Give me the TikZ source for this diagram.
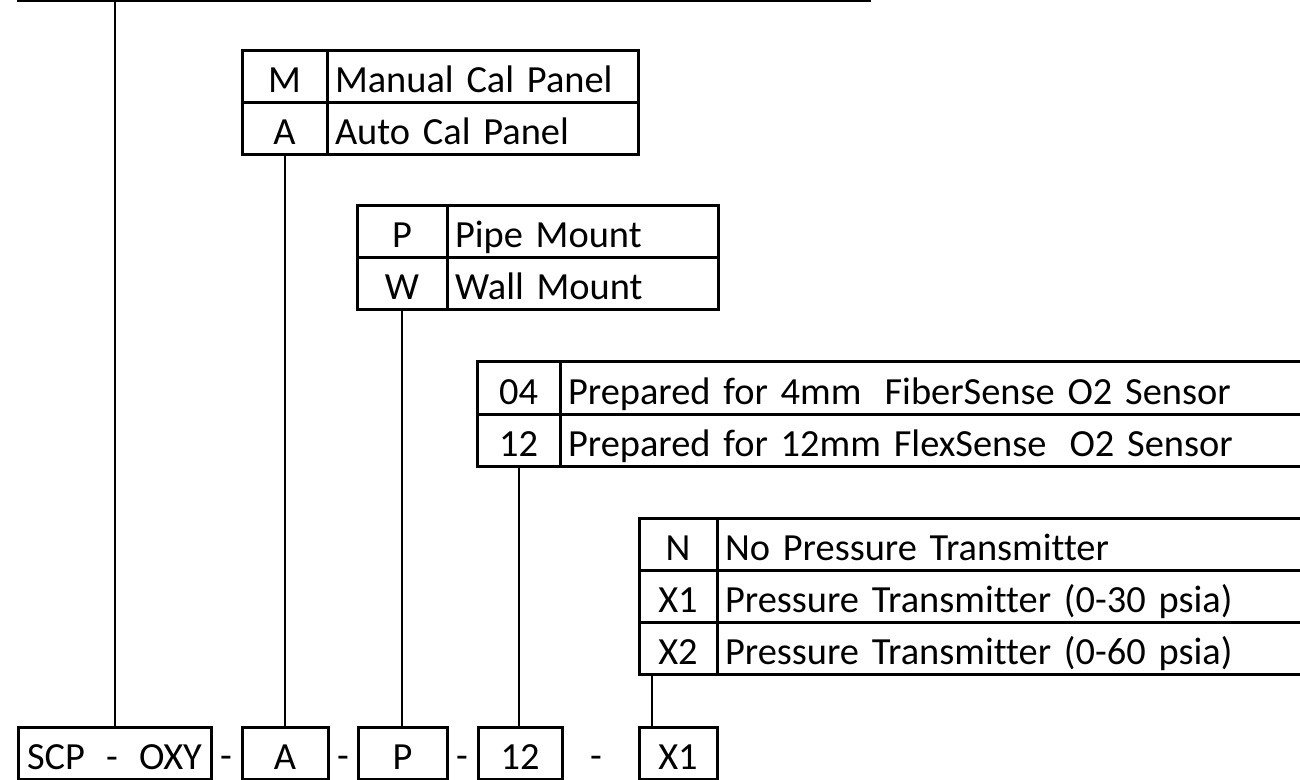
\documentclass[tikz,border=0pt]{standalone}
\usepackage{fontspec}
\setmainfont{Carlito}[Ligatures=NoCommon]
\begin{document}
\begin{tikzpicture}[x=0.5pt,y=-0.5pt,
  every node/.style={font=\fontsize{19.2}{23}\selectfont, inner sep=0pt, outer sep=0pt, text height=21pt, text depth=5pt},
  cell/.style={draw, line width=1.5pt, anchor=north west, minimum height=26pt},
  codecell/.style={cell, minimum width=#1, align=center},
  desccell/.style={cell, text width=#1, inner xsep=4pt, align=left},
  conn/.style={line width=1pt},
]
\useasboundingbox (0,0) rectangle (1300,780);
% top line
\coordinate (tl) at (17,1);
\coordinate (tr) at (871,1);
\draw[conn] (tl) -- (tr);
% box 1
\node[codecell=42.5pt] (cM) at (242,51) {M};
\node[desccell=147.5pt] (dM) at (327,51) {Manual Cal Panel};
\node[codecell=42.5pt] (cA) at (242,103) {A};
\node[desccell=147.5pt] (dA) at (327,103) {Auto Cal Panel};
% box 2
\node[codecell=45pt] (cP) at (357,206) {P};
\node[desccell=127.5pt] (dP) at (447,206) {Pipe Mount};
\node[codecell=45pt] (cW) at (357,258) {W};
\node[desccell=127.5pt] (dW) at (447,258) {Wall Mount};
% box 3
\node[codecell=41.5pt] (c04) at (477,362) {04};
\node[desccell=372pt] (d04) at (560,362) {Prepared for 4mm\hspace{0.6em}FiberSense O2 Sensor};
\node[codecell=41.5pt] (c12) at (477,414) {12};
\node[desccell=372pt] (d12) at (560,414) {Prepared for 12mm FlexSense\hspace{0.6em}O2 Sensor};
% box 4
\node[codecell=39pt] (cN) at (639,518) {N};
\node[desccell=293.5pt] (dN) at (717,518) {No Pressure Transmitter};
\node[codecell=39pt] (cX1) at (639,570) {X1};
\node[desccell=293.5pt] (dX1) at (717,570) {Pressure Transmitter (0-30 psia)};
\node[codecell=39pt] (cX2) at (639,622) {X2};
\node[desccell=293.5pt] (dX2) at (717,622) {Pressure Transmitter (0-60 psia)};
% bottom code
\node[codecell=96.5pt] (bSCP) at (18,727) {SCP\hspace{0.55em}-\hspace{0.55em}OXY};
\node[codecell=43pt] (bA) at (242,727) {A};
\node[codecell=44.5pt] (bP) at (358,727) {P};
\node[codecell=42pt] (b12) at (478,727) {12};
\node[codecell=39pt] (bX1) at (639,727) {X1};
\node (s1) at (226,752.5) {-};
\node (s2) at (343,752.5) {-};
\node (s3) at (462,752.5) {-};
\node (s4) at (596,752.5) {-};
% connectors
\draw[conn] (bSCP.north |- tl) -- (bSCP.north);
\draw[conn] (cA.south) -- (cA.south |- bA.north);
\draw[conn] (cW.south) -- (cW.south |- bP.north);
\draw[conn] (c12.south) -- (c12.south |- b12.north);
\coordinate (xs) at ([xshift=6.5pt]cX2.south west);
\draw[conn] (xs) -- (xs |- bX1.north);
\end{tikzpicture}
\end{document}
